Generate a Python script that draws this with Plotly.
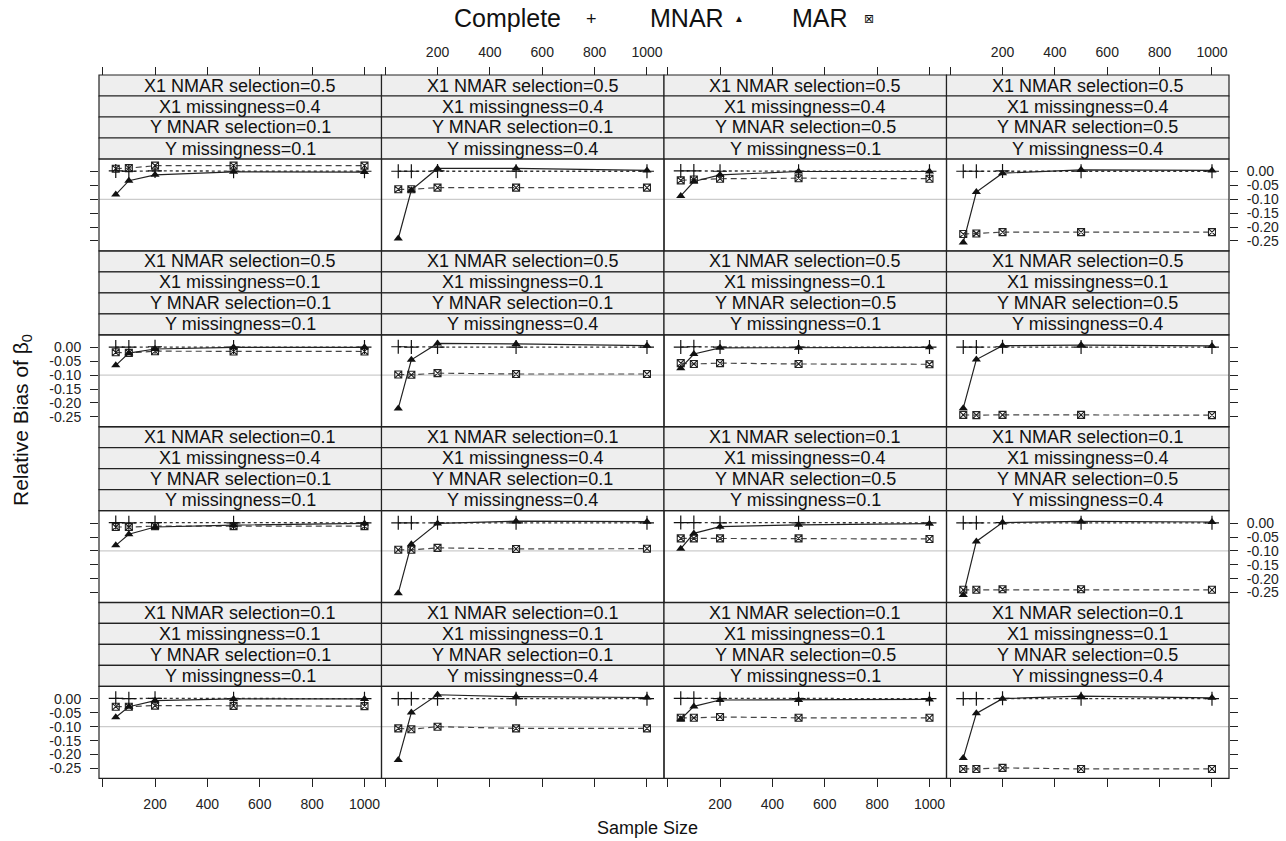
import plotly.graph_objects as go

# ---------------- data ----------------
sample_sizes = [50, 100, 200, 500, 1000]

x1_nmar_selection = [0.5, 0.5, 0.1, 0.1]   # per panel row
x1_missingness = [0.4, 0.1, 0.4, 0.1]      # per panel row
y_mnar_selection = [0.1, 0.1, 0.5, 0.5]    # per panel column
y_missingness = [0.1, 0.4, 0.1, 0.4]       # per panel column

complete_bias = [
    [0.002, 0.001, 0.002, 0.001, 0.001],
    [0.001, 0.001, 0.002, 0.001, 0.001],
    [0.002, 0.002, 0.001, 0.001, 0.001],
    [0.001, 0.001, 0.002, 0.001, 0.001],
    [0.001, 0.001, 0.002, 0.001, 0.001],
    [0.002, 0.001, 0.001, 0.001, 0.001],
    [0.001, 0.002, 0.001, 0.001, 0.001],
    [0.001, 0.001, 0.002, 0.001, 0.001],
    [0.002, 0.001, 0.002, 0.001, 0.001],
    [0.001, 0.001, 0.001, 0.001, 0.001],
    [0.002, 0.002, 0.001, 0.001, 0.001],
    [0.001, 0.001, 0.002, 0.001, 0.001],
    [0.002, 0.001, 0.002, 0.001, 0.001],
    [0.001, 0.001, 0.001, 0.001, 0.001],
    [0.002, 0.002, 0.001, 0.001, 0.001],
    [0.001, 0.001, 0.002, 0.001, 0.001],
]

mnar_bias = [
    [-0.083, -0.033, -0.012, -0.001, -0.002],
    [-0.241, -0.067, 0.011, 0.011, 0.004],
    [-0.088, -0.036, -0.012, 0.000, 0.000],
    [-0.255, -0.074, -0.006, 0.006, 0.004],
    [-0.065, -0.021, -0.006, 0.000, 0.000],
    [-0.220, -0.045, 0.014, 0.012, 0.006],
    [-0.075, -0.024, -0.002, -0.002, 0.000],
    [-0.219, -0.044, 0.006, 0.008, 0.005],
    [-0.080, -0.040, -0.014, -0.007, -0.001],
    [-0.252, -0.076, -0.001, 0.007, 0.005],
    [-0.092, -0.037, -0.013, -0.006, -0.002],
    [-0.259, -0.066, 0.002, 0.006, 0.004],
    [-0.066, -0.028, -0.006, 0.000, 0.000],
    [-0.220, -0.049, 0.015, 0.008, 0.005],
    [-0.073, -0.027, -0.004, -0.004, -0.002],
    [-0.213, -0.052, 0.001, 0.010, 0.004],
]

mar_bias = [
    [0.010, 0.012, 0.021, 0.021, 0.021],
    [-0.064, -0.064, -0.058, -0.058, -0.058],
    [-0.032, -0.029, -0.026, -0.024, -0.026],
    [-0.225, -0.223, -0.218, -0.218, -0.218],
    [-0.018, -0.020, -0.014, -0.015, -0.015],
    [-0.098, -0.099, -0.093, -0.096, -0.096],
    [-0.057, -0.060, -0.057, -0.060, -0.061],
    [-0.243, -0.244, -0.243, -0.243, -0.244],
    [-0.014, -0.014, -0.011, -0.011, -0.011],
    [-0.096, -0.096, -0.089, -0.093, -0.092],
    [-0.055, -0.055, -0.055, -0.055, -0.057],
    [-0.240, -0.240, -0.238, -0.238, -0.240],
    [-0.028, -0.028, -0.024, -0.025, -0.026],
    [-0.106, -0.109, -0.100, -0.106, -0.106],
    [-0.068, -0.068, -0.065, -0.068, -0.068],
    [-0.252, -0.252, -0.248, -0.252, -0.252],
]

x_tick_vals = [0, 200, 400, 600, 800, 1000]
x_tick_text = ["", "200", "400", "600", "800", "1000"]
y_tick_vals = [0.0, -0.05, -0.10, -0.15, -0.20, -0.25]
y_tick_text = ["0.00", "-0.05", "-0.10", "-0.15", "-0.20", "-0.25"]
reference_line = -0.10

# ---------------- layout geometry ----------------
W, H = 1286, 841
FONT = "Liberation Sans, Arial, Helvetica, sans-serif"


def px(x):
    return x / W


def py(y):
    return 1 - y / H


col_edges = [99 + 282.5 * i for i in range(5)]
row_top = [75 + 175.8 * r for r in range(4)]
STRIP_H = 21
PLOT_H = 92

fig = go.Figure()
layout = {}
shapes = []
annotations = []

for r in range(4):
    for c in range(4):
        k = r * 4 + c
        sfx = "" if k == 0 else str(k + 1)
        xa, ya = "x" + sfx, "y" + sfx
        p_top = row_top[r] + 4 * STRIP_H
        p_bot = p_top + PLOT_H
        xdom = [px(col_edges[c]), px(col_edges[c + 1])]
        ydom = [py(p_bot), py(p_top)]

        xaxis = dict(domain=xdom, range=[-14, 1065], anchor=ya,
                     showgrid=False, zeroline=False, showline=False,
                     tickvals=x_tick_vals, ticktext=x_tick_text,
                     tickfont=dict(family=FONT, size=14, color="#222"),
                     ticklen=8, tickcolor="#222", tickwidth=1)
        if r == 0:
            xaxis.update(side="top", anchor="free", position=py(row_top[0]),
                         ticks="outside", showticklabels=(c in (1, 3)),
                         ticklabelstandoff=4)
        elif r == 3:
            xaxis.update(side="bottom", ticks="outside",
                         showticklabels=(c in (0, 2)), ticklabelstandoff=5)
        else:
            xaxis.update(ticks="", showticklabels=False)

        yaxis = dict(domain=ydom, range=[-0.286, 0.045], anchor=xa,
                     showgrid=False, zeroline=False, showline=False,
                     tickvals=y_tick_vals, ticktext=y_tick_text,
                     tickfont=dict(family=FONT, size=14, color="#222"),
                     ticklen=8, tickcolor="#222", tickwidth=1)
        if c == 0:
            yaxis.update(side="left", ticks="outside",
                         showticklabels=(r in (1, 3)), ticklabelstandoff=6)
        elif c == 3:
            yaxis.update(side="right", ticks="outside",
                         showticklabels=(r in (0, 2)), ticklabelstandoff=6)
        else:
            yaxis.update(ticks="", showticklabels=False)

        layout["xaxis" + sfx] = xaxis
        layout["yaxis" + sfx] = yaxis

        # reference line
        shapes.append(dict(type="line", xref=xa + " domain", yref=ya,
                           x0=0, x1=1, y0=reference_line, y1=reference_line,
                           line=dict(color="#cccccc", width=1.2), layer="below"))

        # traces
        fig.add_trace(go.Scatter(
            x=sample_sizes, y=mar_bias[k], xaxis=xa, yaxis=ya, mode="lines+markers",
            line=dict(color="#444", width=1.2, dash="6px,4px"),
            marker=dict(symbol="square-x-open", size=7, color="#222",
                        line=dict(width=1.1, color="#222")),
            showlegend=False))
        fig.add_trace(go.Scatter(
            x=sample_sizes, y=complete_bias[k], xaxis=xa, yaxis=ya, mode="lines+markers",
            line=dict(color="#333", width=1.3, dash="dot"),
            marker=dict(symbol="cross-thin-open", size=10, color="#111",
                        line=dict(width=1.2, color="#111")),
            showlegend=False))
        fig.add_trace(go.Scatter(
            x=sample_sizes, y=mnar_bias[k], xaxis=xa, yaxis=ya, mode="lines+markers",
            line=dict(color="#222", width=1.2),
            marker=dict(symbol="triangle-up", size=8, color="#111"),
            showlegend=False))

        # strips
        labels = [f"X1 NMAR selection={x1_nmar_selection[r]}",
                  f"X1 missingness={x1_missingness[r]}",
                  f"Y MNAR selection={y_mnar_selection[c]}",
                  f"Y missingness={y_missingness[c]}"]
        for s, lab in enumerate(labels):
            st = row_top[r] + s * STRIP_H
            shapes.append(dict(type="rect", xref="paper", yref="paper",
                               x0=xdom[0], x1=xdom[1], y0=py(st + STRIP_H), y1=py(st),
                               fillcolor="#eeeeee", line=dict(color="#222", width=1.2),
                               layer="below"))
            annotations.append(dict(xref="paper", yref="paper",
                                    x=(xdom[0] + xdom[1]) / 2, y=py(st + STRIP_H / 2),
                                    text=lab, showarrow=False,
                                    font=dict(family=FONT, size=18, color="#111"),
                                    xanchor="center", yanchor="middle"))
        # panel border
        shapes.append(dict(type="rect", xref="paper", yref="paper",
                           x0=xdom[0], x1=xdom[1], y0=ydom[0], y1=ydom[1],
                           line=dict(color="#222", width=1.2), fillcolor="rgba(0,0,0,0)"))

# legend key (text then symbol, as lattice draws it)
legend_items = [("Complete", 507, 18, 25), ("+", 591, 19, 18), ("MNAR", 687, 18, 25),
                ("▲", 739, 19, 10), ("MAR", 820, 18, 25), ("⊠", 869, 19, 12)]
for txt, x, y, sz in legend_items:
    annotations.append(dict(xref="paper", yref="paper", x=px(x), y=py(y), text=txt,
                            showarrow=False, xanchor="center", yanchor="middle",
                            font=dict(family=FONT if txt != "⊠" else "DejaVu Sans",
                                      size=sz, color="#111")))

# axis titles
annotations.append(dict(xref="paper", yref="paper", x=px(647), y=py(828),
                        text="Sample Size", showarrow=False,
                        font=dict(family=FONT, size=18, color="#111"),
                        xanchor="center", yanchor="middle"))
annotations.append(dict(xref="paper", yref="paper", x=px(22), y=py(420),
                        text="Relative Bias of β<sub>0</sub>", showarrow=False, textangle=-90,
                        font=dict(family=FONT, size=21, color="#111"),
                        xanchor="center", yanchor="middle"))

fig.update_layout(width=W, height=H, margin=dict(l=0, r=0, t=0, b=0),
                  paper_bgcolor="white", plot_bgcolor="white",
                  shapes=shapes, annotations=annotations, showlegend=False,
                  **layout)

fig.write_html("out.html")
